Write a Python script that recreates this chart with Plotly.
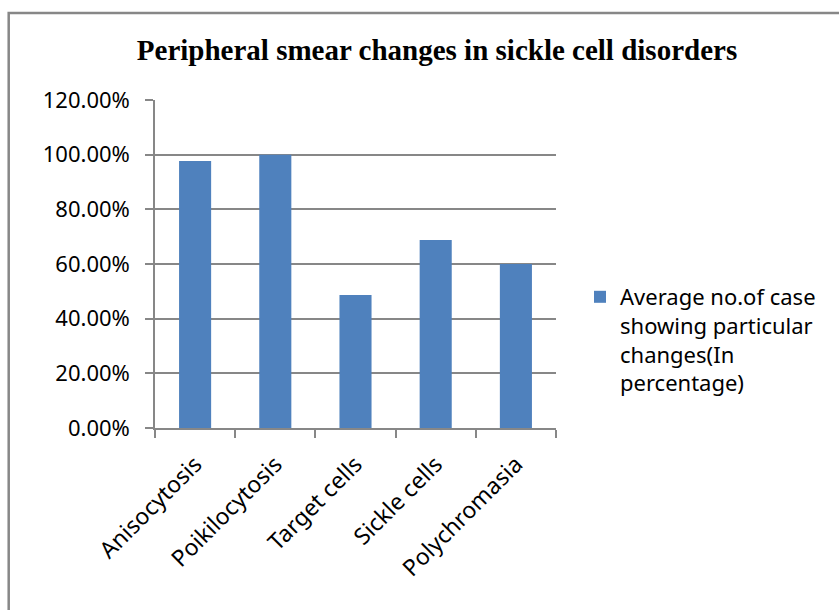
import plotly.graph_objects as go

categories = ["Anisocytosis", "Poikilocytosis", "Target cells", "Sickle cells", "Polychromasia"]
values = [0.977, 1.00, 0.487, 0.688, 0.60]
series_name = "Average no.of case<br>showing particular<br>changes(In<br>percentage)"
title_text = "<b>Peripheral smear changes in sickle cell disorders</b>"
y_ticks = [0, 0.2, 0.4, 0.6, 0.8, 1.0, 1.2]
y_tick_labels = ["0.00%", "20.00%", "40.00%", "60.00%", "80.00%", "100.00%", "120.00%"]

W, H = 839, 610
ML, MR, MT, MB = 155, 283, 100, 182
pw, ph = W - ML - MR, H - MT - MB

def px_x(p):
    return (p - ML) / pw

def px_y(p):
    return (H - MB - p) / ph

fig = go.Figure()
fig.add_trace(go.Bar(
    x=categories, y=values, name=series_name,
    marker=dict(color="#4F81BD", line=dict(width=0)),
    showlegend=True,
))

grid = "#878787"
sans = "Noto Sans, Calibri, sans-serif"
fig.update_layout(
    width=W, height=H,
    margin=dict(l=ML, r=MR, t=MT, b=MB, autoexpand=False),
    paper_bgcolor="white", plot_bgcolor="white",
    bargap=0.6,
    title=dict(text=title_text, x=437 / W, xref="container", xanchor="center",
               y=1 - 50 / H, yref="container", yanchor="middle",
               font=dict(family="Liberation Serif, Times New Roman, serif", size=29, color="black")),
    font=dict(family=sans, size=22, color="black"),
    xaxis=dict(
        type="category", tickangle=-45, tickson="boundaries",
        ticks="outside", ticklen=8, tickcolor=grid, tickwidth=1.5,
        showline=True, linecolor=grid, linewidth=1.5,
        showgrid=False, tickfont=dict(family=sans, size=23, color="black"),
        ticklabelstandoff=12,
    ),
    yaxis=dict(
        range=[0, 1.2], tickvals=y_ticks, ticktext=y_tick_labels,
        ticks="outside", ticklen=8, tickcolor=grid, tickwidth=1.5,
        showline=True, linecolor=grid, linewidth=1.5,
        showgrid=True, gridcolor=grid, gridwidth=1.5, zeroline=False,
        tickfont=dict(family=sans, size=22, color="black"), ticklabelstandoff=11,
    ),
    legend=dict(
        x=px_x(580), y=px_y(276), xanchor="left", yanchor="top",
        valign="top", font=dict(family=sans, size=22, color="black"),
        bgcolor="rgba(0,0,0,0)", tracegroupgap=0,
    ),
    shapes=[dict(type="rect", xref="paper", yref="paper",
                 x0=px_x(8.7), x1=px_x(850), y0=px_y(625), y1=px_y(13),
                 line=dict(color="#878787", width=2.5), layer="below")],
)

fig.write_html("out.html", config={"displayModeBar": False},
               post_script="document.body.style.margin='0';")
